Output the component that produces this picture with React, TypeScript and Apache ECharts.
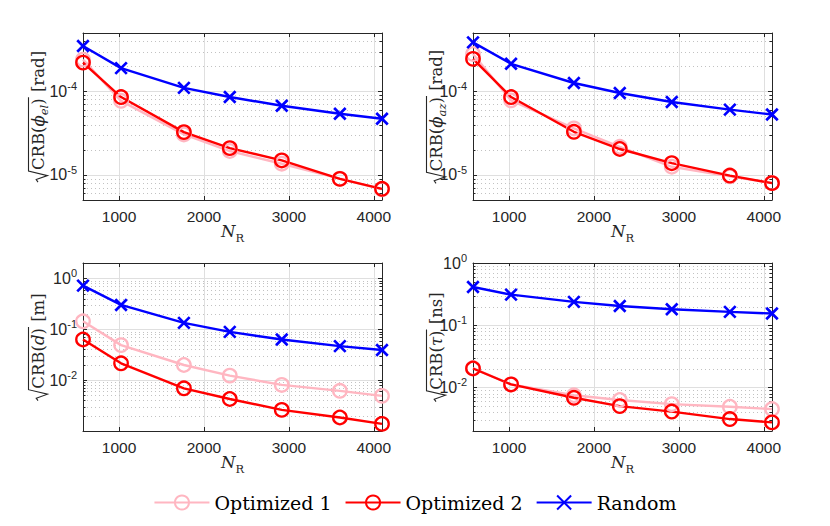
import React, { useEffect, useRef } from 'react';
import * as echarts from 'echarts';

// ---------------- data ----------------
const xValues = [576, 1024, 1764, 2304, 2916, 3600, 4096];

const elOpt1 = [2.4e-4, 7.7e-5, 3.05e-5, 1.93e-5, 1.36e-5, 9.0e-6, 6.7e-6];
const elOpt2 = [2.21e-4, 8.55e-5, 3.25e-5, 2.09e-5, 1.49e-5, 8.95e-6, 6.8e-6];
const elRand = [3.5e-4, 1.9e-4, 1.1e-4, 8.55e-5, 6.73e-5, 5.4e-5, 4.7e-5];

const azOpt1 = [2.8e-4, 7.8e-5, 3.6e-5, 2.17e-5, 1.25e-5, 9.6e-6, 8.0e-6];
const azOpt2 = [2.45e-4, 8.55e-5, 3.28e-5, 2.04e-5, 1.38e-5, 9.8e-6, 7.96e-6];
const azRand = [3.86e-4, 2.14e-4, 1.26e-4, 9.55e-5, 7.46e-5, 6.05e-5, 5.28e-5];

const dOpt1 = [0.143, 0.0487, 0.0198, 0.01225, 0.00805, 0.00615, 0.0049];
const dOpt2 = [0.0628, 0.0214, 0.0069, 0.00425, 0.0026, 0.00184, 0.00138];
const dRand = [0.72, 0.3, 0.133, 0.0887, 0.0628, 0.0466, 0.039];

const tauOpt1 = [0.0205, 0.0112, 0.0075, 0.0063, 0.0054, 0.0049, 0.0045];
const tauOpt2 = [0.0202, 0.0112, 0.00683, 0.00502, 0.0041, 0.00311, 0.00275];
const tauRand = [0.412, 0.31, 0.237, 0.204, 0.181, 0.164, 0.154];

const xTickLabels = [1000, 2000, 3000, 4000];
const yTicksTop = [1e-5, 1e-4];
const yTicksBottom = [1e-2, 1e-1, 1];
const legendNames = ['Optimized 1', 'Optimized 2', 'Random'];

// ---------------- styles ----------------
const SERIF = '"DejaVu Serif", serif';
const SANS = '"Liberation Sans", Arial, sans-serif';
const AX = '#262626';
const PINK = '#FFB6C1';
const RED = '#FF0000';
const BLUE = '#0000FF';
const X_MARK = 'path://M0,0L10,10M0,10L10,0';
const X_MIN = 576;
const X_MAX = 4096;
const GRID_W = 299;
const TICK_BASE = 16;
const TICK_SUP = 11;

const panels = [
  { left: 83, top: 33, height: 167, yMin: 5e-6, yMax: 5e-4, yTicks: yTicksTop, values: [elOpt1, elOpt2, elRand], sym: '\u03d5', sub: 'el', unit: '[rad]', labelX: 44 },
  { left: 473, top: 33, height: 167, yMin: 5e-6, yMax: 5e-4, yTicks: yTicksTop, values: [azOpt1, azOpt2, azRand], sym: '\u03d5', sub: 'az', unit: '[rad]', labelX: 442 },
  { left: 83, top: 263, height: 168, yMin: 1e-3, yMax: 2, yTicks: yTicksBottom, values: [dOpt1, dOpt2, dRand], sym: 'd', sub: '', unit: '[m]', labelX: 44 },
  { left: 473, top: 263, height: 168, yMin: 2e-3, yMax: 1, yTicks: yTicksBottom, values: [tauOpt1, tauOpt2, tauRand], sym: '\u03c4', sub: '', unit: '[ns]', labelX: 442 },
];

const seriesStyles = [
  { symbol: 'circle', symbolSize: 13.5, itemStyle: { color: 'rgba(0,0,0,0)', borderColor: PINK, borderWidth: 2.3 }, lineStyle: { color: PINK, width: 2.4 } },
  { symbol: 'circle', symbolSize: 13.5, itemStyle: { color: 'rgba(0,0,0,0)', borderColor: RED, borderWidth: 2.3 }, lineStyle: { color: RED, width: 2.4 } },
  { symbol: X_MARK, symbolSize: 11.5, itemStyle: { color: BLUE, borderColor: BLUE, borderWidth: 2.7 }, lineStyle: { color: BLUE, width: 2.4 } },
];

function serifFont(size: number, italic: boolean) {
  return `${italic ? 'italic ' : ''}${size}px "DejaVu Serif"`;
}
function sansFont(size: number) {
  return `${size}px "Liberation Sans"`;
}

let measureCtx: CanvasRenderingContext2D | null = null;
function measureFont(text: string, font: string) {
  if (!measureCtx) measureCtx = document.createElement('canvas').getContext('2d');
  measureCtx!.font = font;
  return measureCtx!.measureText(text).width;
}
function measure(text: string, size: number, italic: boolean) {
  return measureFont(text, serifFont(size, italic));
}

function runText(text: string, x: number, size: number, italic: boolean, dy: number) {
  return {
    type: 'text',
    x,
    y: dy - 0.346 * size,
    silent: true,
    style: {
      text,
      font: serifFont(size, italic),
      fill: AX,
      textAlign: 'left',
      textVerticalAlign: 'middle',
      align: 'left',
      verticalAlign: 'middle',
    },
  };
}

function yLabel(p: any) {
  const FS = 16.5;
  const SUB = 11.5;
  const children: any[] = [];
  let x = 12;
  const runs: any[] = [
    { t: 'CRB(', s: FS, i: false, dy: 0 },
    { t: p.sym, s: FS, i: true, dy: 0 },
  ];
  if (p.sub) runs.push({ t: p.sub, s: SUB, i: true, dy: 3.5 });
  runs.push({ t: ')', s: FS, i: false, dy: 0 });
  for (const r of runs) {
    children.push(runText(r.t, x, r.s, r.i, r.dy));
    x += measure(r.t, r.s, r.i);
  }
  const overEnd = x + 1;
  x += measure(' ', FS, false) + 1;
  children.push(runText(p.unit, x, FS, false, 0));
  x += measure(p.unit, FS, false);
  children.push({
    type: 'polyline',
    silent: true,
    shape: { points: [[0, -6], [2.5, -7.8], [6.5, 3.5], [11, -15.5], [overEnd, -15.5]] },
    style: { stroke: AX, lineWidth: 1.1, fill: null },
  });
  const L = x;
  return {
    type: 'group',
    x: p.labelX,
    y: p.top + p.height / 2 + L / 2,
    rotation: Math.PI / 2,
    silent: true,
    children,
  };
}

function xLabel(p: any) {
  const wN = measure('N', 16.5, true);
  const wR = measure('R', 11.5, false);
  const cx = p.left + GRID_W / 2;
  const x0 = cx - (wN + wR) / 2;
  const base = p.top + p.height + 37;
  return {
    type: 'group',
    x: x0,
    y: base,
    silent: true,
    children: [runText('N', 0, 16.5, true, 0), runText('R', wN, 11.5, false, 4.5)],
  };
}

function minorValues(min: number, max: number) {
  const out: number[] = [];
  for (let e = Math.floor(Math.log10(min)); e <= Math.ceil(Math.log10(max)); e++) {
    for (let k = 2; k <= 9; k++) {
      const v = k * Math.pow(10, e);
      if (v > min * 1.0001 && v < max * 0.9999) out.push(v);
    }
  }
  return out;
}

function minorRender(params: any, api: any) {
  const pt = api.coord([api.value(0), api.value(1)]);
  const cs = params.coordSys;
  const y = Math.round(pt[1]) + 0.5;
  return {
    type: 'group',
    children: [
      { type: 'line', shape: { x1: cs.x, y1: y, x2: cs.x + cs.width, y2: y }, style: { stroke: '#c2c2c2', lineWidth: 1, lineDash: [1, 3] } },
      { type: 'line', shape: { x1: cs.x, y1: y, x2: cs.x + 2.5, y2: y }, style: { stroke: AX, lineWidth: 1 } },
      { type: 'line', shape: { x1: cs.x + cs.width - 2.5, y1: y, x2: cs.x + cs.width, y2: y }, style: { stroke: AX, lineWidth: 1 } },
    ],
  };
}

function tickLabelRender(params: any, api: any) {
  const v = api.value(1);
  const pt = api.coord([api.value(0), v]);
  const cs = params.coordSys;
  const expStr = String(Math.round(Math.log10(v)));
  const expW = measureFont(expStr, sansFont(TICK_SUP));
  const right = cs.x - 6;
  const common = { fill: AX, textAlign: 'right', align: 'right', textVerticalAlign: 'middle', verticalAlign: 'middle' };
  return {
    type: 'group',
    children: [
      { type: 'text', x: right, y: pt[1] - 5, style: { ...common, text: expStr, font: sansFont(TICK_SUP) } },
      { type: 'text', x: right - expW, y: pt[1], style: { ...common, text: '10', font: sansFont(TICK_BASE) } },
    ],
  };
}

function buildOption() {
  const grid: any[] = [];
  const xAxis: any[] = [];
  const yAxis: any[] = [];
  const series: any[] = [];
  const elements: any[] = [];
  const axisLine = { show: true, onZero: false, lineStyle: { color: AX, width: 1 } };
  const axisTick = { show: true, inside: true, length: 4, lineStyle: { color: AX, width: 1 } };

  panels.forEach((p, i) => {
    grid.push({ left: p.left, top: p.top, width: GRID_W, height: p.height, containLabel: false });
    const xBase = { type: 'value', gridIndex: i, min: X_MIN, max: X_MAX, minInterval: 1000, maxInterval: 1000, splitNumber: 4 };
    xAxis.push({
      ...xBase,
      position: 'bottom',
      axisLine,
      axisTick,
      axisLabel: {
        margin: 8,
        color: AX,
        fontFamily: SANS,
        fontSize: 15.5,
        formatter: (v: number) => (xTickLabels.indexOf(Math.round(v)) >= 0 && Math.abs(v - Math.round(v)) < 1e-6 ? String(Math.round(v)) : ''),
      },
      splitLine: { show: true, showMinLine: false, showMaxLine: false, lineStyle: { color: '#dfdfdf', width: 1 } },
    });
    xAxis.push({ ...xBase, position: 'top', axisLine, axisTick, axisLabel: { show: false }, splitLine: { show: false } });

    const yBase = { type: 'log', logBase: 10, gridIndex: i, min: p.yMin, max: p.yMax };
    yAxis.push({
      ...yBase,
      position: 'left',
      axisLine,
      axisTick,
      axisLabel: { show: false },
      splitLine: { show: true, showMinLine: false, showMaxLine: false, lineStyle: { color: '#dfdfdf', width: 1 } },
    });
    yAxis.push({ ...yBase, position: 'right', axisLine, axisTick, axisLabel: { show: false }, splitLine: { show: false } });

    series.push({
      type: 'custom',
      xAxisIndex: 2 * i,
      yAxisIndex: 2 * i,
      silent: true,
      z: 1,
      data: minorValues(p.yMin, p.yMax).map((v) => [X_MIN, v]),
      renderItem: minorRender,
    });
    series.push({
      type: 'custom',
      xAxisIndex: 2 * i,
      yAxisIndex: 2 * i,
      silent: true,
      clip: false,
      z: 1,
      data: p.yTicks.map((v: number) => [X_MIN, v]),
      renderItem: tickLabelRender,
    });

    p.values.forEach((vals, k) => {
      series.push({
        type: 'line',
        name: legendNames[k],
        xAxisIndex: 2 * i,
        yAxisIndex: 2 * i,
        data: xValues.map((x, j) => [x, vals[j]]),
        clip: false,
        z: 3,
        symbolKeepAspect: true,
        emphasis: { disabled: true },
        ...seriesStyles[k],
      });
    });

    elements.push(yLabel(p));
    elements.push(xLabel(p));
  });

  return {
    animation: false,
    backgroundColor: '#ffffff',
    grid,
    xAxis,
    yAxis,
    series,
    graphic: { elements },
    legend: {
      data: legendNames,
      left: 'center',
      top: 488,
      itemWidth: 55,
      itemHeight: 17.5,
      itemGap: 13,
      selectedMode: false,
      textStyle: { fontFamily: SERIF, fontSize: 19, color: '#000' },
    },
  };
}

export default function App() {
  const ref = useRef<HTMLDivElement>(null);
  useEffect(() => {
    const chart = echarts.init(ref.current!, null, { renderer: 'svg' });
    chart.setOption(buildOption() as any);
    return () => chart.dispose();
  }, []);
  return (
    <div
      ref={ref}
      style={{ position: 'fixed', left: 0, top: 0, width: 830, height: 526, background: '#fff' }}
    />
  );
}
